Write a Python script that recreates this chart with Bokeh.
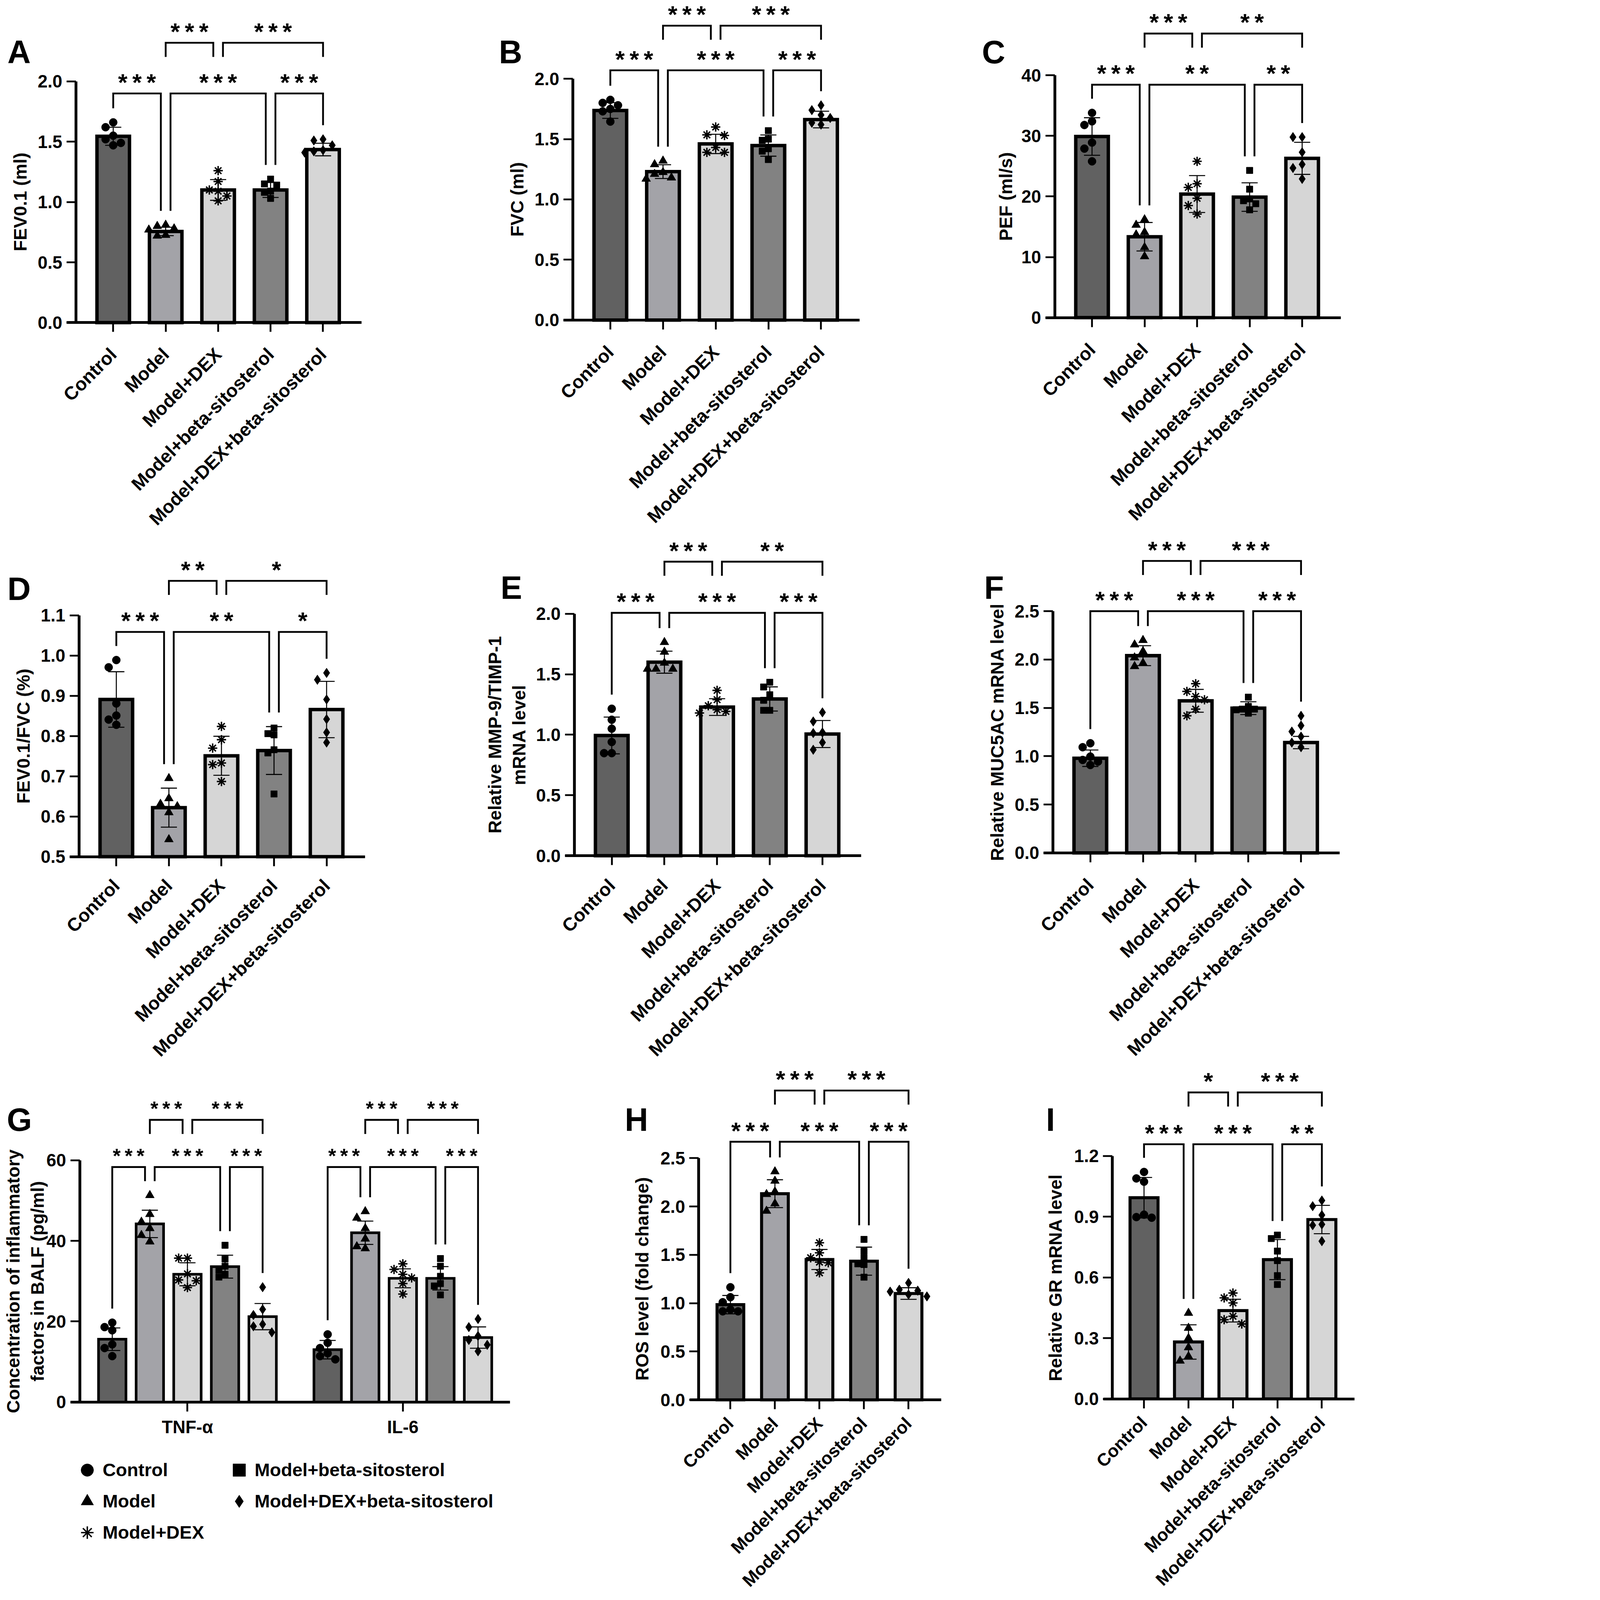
import math
from bokeh.plotting import figure
from bokeh.models import Range1d, FixedTicker, PrintfTickFormatter, Legend, LegendItem
from bokeh.layouts import row, column
from bokeh.embed import file_html
from bokeh.resources import INLINE
from bokeh.core.properties import value

FONT = "Liberation Sans"
S = 0.516  # page scale (reference pixels -> page pixels)

# ---------------- data ----------------
groups = ["Control", "Model", "Model+DEX", "Model+beta-sitosterol", "Model+DEX+beta-sitosterol"]
markers = ["circle", "triangle", "asterisk", "square", "diamond"]
bar_colors = ["#616161", "#a3a3a8", "#d6d6d6", "#828282", "#d6d6d6"]

# A  FEV0.1 (ml)
fev_mean = [1.545, 0.756, 1.10, 1.10, 1.435]
fev_sd = [0.075, 0.035, 0.086, 0.062, 0.052]
fev_pts = [[1.62, 1.66, 1.52, 1.49, 1.47, 1.55],
           [0.78, 0.81, 0.80, 0.77, 0.72, 0.726],
           [1.26, 1.17, 1.10, 1.09, 1.01, 1.05],
           [1.19, 1.15, 1.14, 1.09, 1.08, 1.03],
           [1.51, 1.52, 1.43, 1.41, 1.47, 1.42]]
# B  FVC (ml)
fvc_mean = [1.737, 1.23, 1.46, 1.446, 1.662]
fvc_sd = [0.065, 0.057, 0.080, 0.088, 0.069]
fvc_pts = [[1.78, 1.825, 1.80, 1.75, 1.73, 1.645],
           [1.29, 1.32, 1.225, 1.18, 1.17, 1.21],
           [1.60, 1.53, 1.535, 1.43, 1.39, 1.39],
           [1.57, 1.50, 1.49, 1.42, 1.40, 1.33],
           [1.74, 1.78, 1.70, 1.675, 1.62, 1.635]]
# C  PEF (ml/s)
pef_mean = [29.9, 13.35, 20.4, 19.9, 26.3]
pef_sd = [3.1, 2.35, 3.05, 2.35, 2.65]
pef_pts = [[33.8, 32.4, 31.8, 28.9, 27.9, 25.8],
           [15.3, 16.2, 14.1, 13.7, 11.6, 10.1],
           [25.8, 21.5, 22.1, 19.7, 18.5, 17.1],
           [24.3, 21.2, 19.6, 19.3, 18.8, 17.8],
           [29.8, 29.8, 27.3, 25.3, 24.7, 22.9]]
# D  FEV0.1/FVC (%)
ratio_mean = [0.891, 0.622, 0.751, 0.764, 0.866]
ratio_sd = [0.069, 0.0485, 0.0485, 0.0595, 0.070]
ratio_pts = [[0.989, 0.971, 0.881, 0.851, 0.841, 0.828],
             [0.695, 0.645, 0.631, 0.610, 0.625, 0.543],
             [0.824, 0.791, 0.770, 0.733, 0.729, 0.687],
             [0.820, 0.806, 0.803, 0.766, 0.758, 0.656],
             [0.957, 0.940, 0.891, 0.842, 0.809, 0.784]]
# E  MMP-9/TIMP-1
mmp_mean = [0.994, 1.60, 1.229, 1.296, 1.006]
mmp_sd = [0.152, 0.091, 0.069, 0.100, 0.112]
mmp_pts = [[1.215, 1.124, 1.05, 0.94, 0.848, 0.848],
           [1.765, 1.685, 1.594, 1.544, 1.544, 1.544],
           [1.367, 1.29, 1.24, 1.207, 1.18, 1.193],
           [1.434, 1.395, 1.331, 1.285, 1.202, 1.202],
           [1.185, 1.11, 1.014, 1.019, 0.936, 0.876]]
# F  MUC5AC
muc_mean = [0.979, 2.04, 1.573, 1.497, 1.141]
muc_sd = [0.085, 0.103, 0.118, 0.066, 0.064]
muc_pts = [[1.093, 1.134, 0.996, 0.961, 0.944, 0.909],
           [2.20, 2.154, 2.085, 2.02, 1.964, 1.93],
           [1.75, 1.67, 1.618, 1.584, 1.487, 1.418],
           [1.611, 1.515, 1.487, 1.487, 1.48, 1.445],
           [1.418, 1.317, 1.203, 1.255, 1.093, 1.141]]
# G  inflammatory factors
cyto_names = ["TNF-α", "IL-6"]
tnf_mean = [15.6, 44.2, 31.7, 33.6, 21.2]
tnf_sd = [2.8, 3.4, 2.85, 2.85, 3.25]
tnf_pts = [[18.6, 19.7, 17.8, 14.3, 13.4, 11.4],
           [51.3, 46.6, 44.7, 43.1, 41.4, 39.8],
           [35.7, 35.7, 31.8, 30.3, 30.1, 28.4],
           [38.9, 35.5, 33.7, 32.7, 31.0, 31.7],
           [28.5, 23.0, 21.6, 19.3, 18.8, 17.3]]
il6_mean = [13.0, 42.0, 30.7, 30.7, 16.0]
il6_sd = [2.3, 2.9, 2.35, 2.9, 2.65]
il6_pts = [[16.8, 14.7, 13.4, 12.1, 11.4, 10.6],
           [47.3, 45.7, 43.1, 38.6, 38.1, 40.5],
           [34.3, 32.9, 31.7, 30.8, 29.4, 26.8],
           [35.6, 33.7, 31.2, 29.4, 28.8, 26.6],
           [20.6, 18.6, 16.4, 15.4, 14.2, 12.6]]
# H  ROS
ros_mean = [0.985, 2.133, 1.452, 1.435, 1.10]
ros_sd = [0.095, 0.144, 0.104, 0.145, 0.060]
ros_pts = [[1.165, 1.062, 1.01, 0.916, 0.934, 0.916],
           [2.362, 2.265, 2.154, 2.127, 2.03, 1.954],
           [1.625, 1.521, 1.47, 1.425, 1.418, 1.314],
           [1.66, 1.539, 1.47, 1.407, 1.40, 1.269],
           [1.21, 1.14, 1.12, 1.13, 1.07, 1.09]]
# I  GR mRNA
gr_mean = [0.994, 0.281, 0.436, 0.688, 0.886]
gr_sd = [0.100, 0.085, 0.056, 0.099, 0.070]
gr_pts = [[1.121, 1.089, 1.073, 0.895, 0.898, 0.91],
          [0.424, 0.35, 0.30, 0.254, 0.21, 0.188],
          [0.523, 0.499, 0.474, 0.408, 0.37, 0.391],
          [0.792, 0.809, 0.73, 0.683, 0.609, 0.565],
          [0.98, 0.952, 0.908, 0.858, 0.862, 0.779]]

# significance (lower row: Ctrl-Model, Model-beta, beta-DEX+beta; upper row: Model-DEX, DEX-DEX+beta)
sig = {
    "A": (["***", "***", "***"], ["***", "***"]),
    "B": (["***", "***", "***"], ["***", "***"]),
    "C": (["***", "**", "**"], ["***", "**"]),
    "D": (["***", "**", "*"], ["**", "*"]),
    "E": (["***", "***", "***"], ["***", "**"]),
    "F": (["***", "***", "***"], ["***", "***"]),
    "G1": (["***", "***", "***"], ["***", "***"]),
    "G2": (["***", "***", "***"], ["***", "***"]),
    "H": (["***", "***", "***"], ["***", "***"]),
    "I": (["***", "***", "**"], ["*", "***"]),
}

ylabels = {
    "A": "FEV0.1 (ml)", "B": "FVC (ml)", "C": "PEF (ml/s)", "D": "FEV0.1/FVC (%)",
    "E": "Relative MMP-9/TIMP-1\nmRNA level", "F": "Relative MUC5AC mRNA level",
    "G": "Concentration of inflammatory\nfactors in BALF (pg/ml)",
    "H": "ROS level (fold change)", "I": "Relative GR mRNA level",
}


def ticks(a, b, s):
    n = int(round((b - a) / s))
    return [round(a + i * s, 4) for i in range(n + 1)]


yticks = {
    "A": ticks(0, 2.0, 0.5), "B": ticks(0, 2.0, 0.5), "C": ticks(0, 40, 10),
    "D": ticks(0.5, 1.1, 0.1), "E": ticks(0, 2.0, 0.5), "F": ticks(0, 2.5, 0.5),
    "G": ticks(0, 60, 20), "H": ticks(0, 2.5, 0.5), "I": ticks(0, 1.2, 0.3),
}

# ---------------- layout (geometry measured in reference pixels) ----------------
LAY = {
    "A": dict(fl=8, ft=8, w=2392, h=2632, left=384, right=1801, base=1608, top=411, x0=-0.71, x1=4.735,
              lower=1.90, upper=2.32, ldx=-340, ldy=257, als=30, fmt="%.1f", xst=94, xf=92),
    "B": dict(fl=2400, ft=8, w=2300, h=2632, left=2850, right=4273, base=1595, top=398, x0=-0.71, x1=4.735,
              lower=2.07, upper=2.44, ldx=-367, ldy=257, als=30, fmt="%.1f", xst=96, xf=92),
    "C": dict(fl=4700, ft=8, w=2028, h=2632, left=5240, right=6659, base=1583, top=381, x0=-0.71, x1=4.735,
              lower=38.45, upper=46.9, ldx=-361, ldy=257, als=22, fmt="%d", xst=96, xf=92),
    "D": dict(fl=8, ft=2640, w=2392, h=2640, left=399, right=1819, base=4258, top=3061, x0=-0.71, x1=4.735,
              lower=1.059, upper=1.186, ldx=-355, ldy=289, als=30, fmt="%.1f", xst=82, xf=92),
    "E": dict(fl=2400, ft=2640, w=2300, h=2640, left=2857, right=4280, base=4253, top=3053, x0=-0.71, x1=4.735,
              lower=2.008, upper=2.431, ldx=-366, ldy=283, als=28, fmt="%.1f", xst=86, xf=92),
    "F": dict(fl=4700, ft=2640, w=2028, h=2640, left=5231, right=6654, base=4239, top=3040, x0=-0.71, x1=4.735,
              lower=2.5, upper=3.02, ldx=-341, ldy=284, als=30, fmt="%.1f", xst=96, xf=92),
    "G": dict(fl=8, ft=5280, w=2692, h=2632, left=403, right=2537, base=6964, top=5764, x0=-2.863, x1=8.579,
              lower=58.3, upper=70.0, ldx=-362, ldy=284, als=-12, fmt="%d", xst=30, xf=88),
    "H": dict(fl=2700, ft=5280, w=2300, h=2632, left=3474, right=4677, base=6953, top=5754, x0=-0.71, x1=4.735,
              lower=2.67, upper=3.20, ldx=-367, ldy=284, als=32, fmt="%.1f", xst=56, xf=88),
    "I": dict(fl=5000, ft=5280, w=1728, h=2632, left=5526, right=6727, base=6948, top=5743, x0=-0.71, x1=4.735,
              lower=1.258, upper=1.514, ldx=-330, ldy=284, als=34, fmt="%.1f", xst=56, xf=88),
}

MSIZE = {"circle": 40, "triangle": 44, "asterisk": 46, "square": 32, "diamond": 48}
THIN = "\u2009"


def px(v):
    return v * S


def fs(v):
    return "%.1fpx" % (v * S)


def swarm_offsets(vals, ux, uy, size):
    order = sorted(range(len(vals)), key=lambda i: -vals[i])
    placed = []
    offs = [0.0] * len(vals)
    step = size * 0.95
    for i in order:
        ypx = vals[i] * uy
        xpx = 0.0
        for k in [0, -1, 1, -2, 2, -3, 3]:
            xpx = k * step
            if all((xpx - a) ** 2 + (ypx - b) ** 2 >= (0.95 * size) ** 2 for a, b in placed):
                break
        placed.append((xpx, ypx))
        offs[i] = xpx / ux
    return offs


def style_axes(p, xfont):
    for ax in (p.xaxis[0], p.yaxis[0]):
        ax.axis_line_width = px(14)
        ax.axis_line_color = "black"
        ax.major_tick_line_width = px(9)
        ax.major_tick_line_color = "black"
        ax.major_tick_out = int(round(px(46)))
        ax.major_tick_in = 0
        ax.minor_tick_line_color = None
        ax.major_label_text_font = FONT
        ax.major_label_text_font_style = "bold"
        ax.major_label_text_color = "black"
        ax.axis_label_text_font = FONT
        ax.axis_label_text_font_style = "bold"
        ax.axis_label_text_font_size = fs(90)
        ax.axis_label_text_color = "black"
        ax.major_label_standoff = int(round(px(22)))
    p.yaxis.major_label_text_font_size = fs(88)
    p.xaxis.major_label_text_font_size = fs(xfont)
    p.xgrid.visible = False
    p.ygrid.visible = False
    p.outline_line_color = None


def panel(key, blocks, xticks, xlabels, rotate, bar_w, bar_lw, star_font, star_strs):
    L = LAY[key]
    yt = yticks[key]
    y0, ymax = yt[0], yt[-1]
    W = int(round(L["w"] * S))
    H = int(round(L["h"] * S))
    ux = (L["right"] - L["left"]) / (L["x1"] - L["x0"])   # reference px per x unit
    uy = (L["base"] - L["top"]) / (ymax - y0)             # reference px per y unit
    xlo = L["x0"] - (L["left"] - L["fl"]) / ux
    xhi = xlo + W / (ux * S)
    ylo = y0 - (L["ft"] + L["h"] - L["base"]) / uy
    yhi = ylo + H / (uy * S)
    p = figure(width=W, height=H, x_range=Range1d(xlo, xhi), y_range=Range1d(ylo, yhi),
               min_border=0, toolbar_location=None, output_backend="svg")
    style_axes(p, L["xf"])
    p.yaxis.fixed_location = L["x0"]
    p.xaxis.fixed_location = y0
    p.yaxis.ticker = FixedTicker(ticks=yt)
    p.yaxis.bounds = (y0, ymax)
    p.yaxis.formatter = PrintfTickFormatter(format=L["fmt"])
    p.yaxis.axis_label = ylabels[key]
    p.yaxis.axis_label_standoff = int(round(px(L["als"])))
    p.xaxis.ticker = FixedTicker(ticks=xticks)
    p.xaxis.bounds = (L["x0"] - 46.0 / ux, L["x1"])
    p.xaxis.major_label_overrides = {t: s for t, s in zip(xticks, xlabels)}
    p.xaxis.major_label_standoff = int(round(px(L["xst"])))
    if rotate:
        p.xaxis.major_label_orientation = math.pi / 4

    gap = 70.0 / uy
    leg = 70.0 / uy
    dx = 24.0 / ux
    cap = 40.0 / ux
    rends = []
    for bi, ((c0, means, sds, pts), (sl, su)) in enumerate(zip(blocks, star_strs)):
        xc = [c0 + i for i in range(5)]
        p.vbar(x=xc, top=means, bottom=y0, width=bar_w, fill_color=bar_colors, line_color="black",
               line_width=px(bar_lw), line_join="miter")
        lo = [m - s for m, s in zip(means, sds)]
        hi = [m + s for m, s in zip(means, sds)]
        p.segment(x0=xc, y0=lo, x1=xc, y1=hi, line_color="black", line_width=px(5))
        p.segment(x0=[x - cap for x in xc], y0=hi, x1=[x + cap for x in xc], y1=hi,
                  line_color="black", line_width=px(5))
        p.segment(x0=[x - cap for x in xc], y0=lo, x1=[x + cap for x in xc], y1=lo,
                  line_color="black", line_width=px(5))
        for i in range(5):
            m = markers[i]
            sz = MSIZE[m]
            offs = swarm_offsets(pts[i], ux, uy, sz)
            xs = [xc[i] + o for o in offs]
            if m == "asterisk":
                r = p.scatter(x=xs, y=pts[i], marker=m, size=px(sz), line_color="black", line_width=px(7))
            else:
                r = p.scatter(x=xs, y=pts[i], marker=m, size=px(sz), fill_color="black", line_color="black")
            if bi == 0:
                rends.append(r)
        top = [max(max(pts[i]), hi[i]) + gap for i in range(5)]
        lowpairs = [(xc[0], xc[1] - dx, top[0], top[1]),
                    (xc[1] + dx, xc[3] - dx, top[1], top[3]),
                    (xc[3] + dx, xc[4], top[3], top[4])]
        uppairs = [(xc[1], xc[2] - dx), (xc[2] + dx, xc[4])]
        bx, by, tx, ty, tt = [], [], [], [], []
        for (xa, xb, ya, yb), s in zip(lowpairs, sl):
            bx.append([xa, xa, xb, xb])
            by.append([ya, L["lower"], L["lower"], yb])
            tx.append((xa + xb) / 2)
            ty.append(L["lower"] + 56.0 / uy)
            tt.append(THIN.join(s))
        for (xa, xb), s in zip(uppairs, su):
            bx.append([xa, xa, xb, xb])
            by.append([L["upper"] - leg, L["upper"], L["upper"], L["upper"] - leg])
            tx.append((xa + xb) / 2)
            ty.append(L["upper"] + 56.0 / uy)
            tt.append(THIN.join(s))
        p.multi_line(xs=bx, ys=by, line_color="black", line_width=px(9), line_join="miter")
        p.text(x=tx, y=ty, text=tt, text_align="center", text_baseline="alphabetic",
               text_font=value(FONT), text_font_style="bold", text_font_size=fs(star_font),
               text_color="black")
    # panel letter
    ytop_axis = y0 + (L["base"] - L["ft"]) / uy
    p.text(x=[L["x0"] + L["ldx"] / ux], y=[ytop_axis - L["ldy"] / uy], text=[key],
           text_align="left", text_baseline="alphabetic", text_font=value(FONT),
           text_font_style="bold", text_font_size=fs(160), text_color="black")
    return p, rends


def simple(key, means, sds, pts, bw=0.62, lw=17):
    p, _ = panel(key, [(0, means, sds, pts)], [0, 1, 2, 3, 4], groups, True, bw, lw, 120, [sig[key]])
    return p


pA = simple("A", fev_mean, fev_sd, fev_pts)
pB = simple("B", fvc_mean, fvc_sd, fvc_pts)
pC = simple("C", pef_mean, pef_sd, pef_pts)
pD = simple("D", ratio_mean, ratio_sd, ratio_pts)
pE = simple("E", mmp_mean, mmp_sd, mmp_pts)
pF = simple("F", muc_mean, muc_sd, muc_pts)
pH = simple("H", ros_mean, ros_sd, ros_pts, bw=0.60, lw=15)
pI = simple("I", gr_mean, gr_sd, gr_pts, bw=0.63, lw=15)

G_SEP = 5.73
pG, g_rends = panel("G", [(-2, tnf_mean, tnf_sd, tnf_pts), (G_SEP - 2, il6_mean, il6_sd, il6_pts)],
                    [0, G_SEP], cyto_names, False, 0.73, 13, 100, [sig["G1"], sig["G2"]])

legend = Legend(items=[LegendItem(label=g, renderers=[r]) for g, r in zip(groups, g_rends)],
                location=(px(354), px(223)), orientation="vertical", nrows=3,
                glyph_width=int(round(px(155))), glyph_height=int(round(px(155))),
                label_height=int(round(px(155))), label_width=int(round(px(599))),
                label_standoff=0, spacing=0, padding=0, margin=0,
                border_line_color=None, background_fill_alpha=0,
                label_text_font=FONT, label_text_font_style="bold", label_text_font_size=fs(91),
                label_text_color="black")
pG.add_layout(legend)

layout = column(row(pA, pB, pC), row(pD, pE, pF), row(pG, pH, pI))
open("out.html", "w").write(file_html(layout, INLINE))
